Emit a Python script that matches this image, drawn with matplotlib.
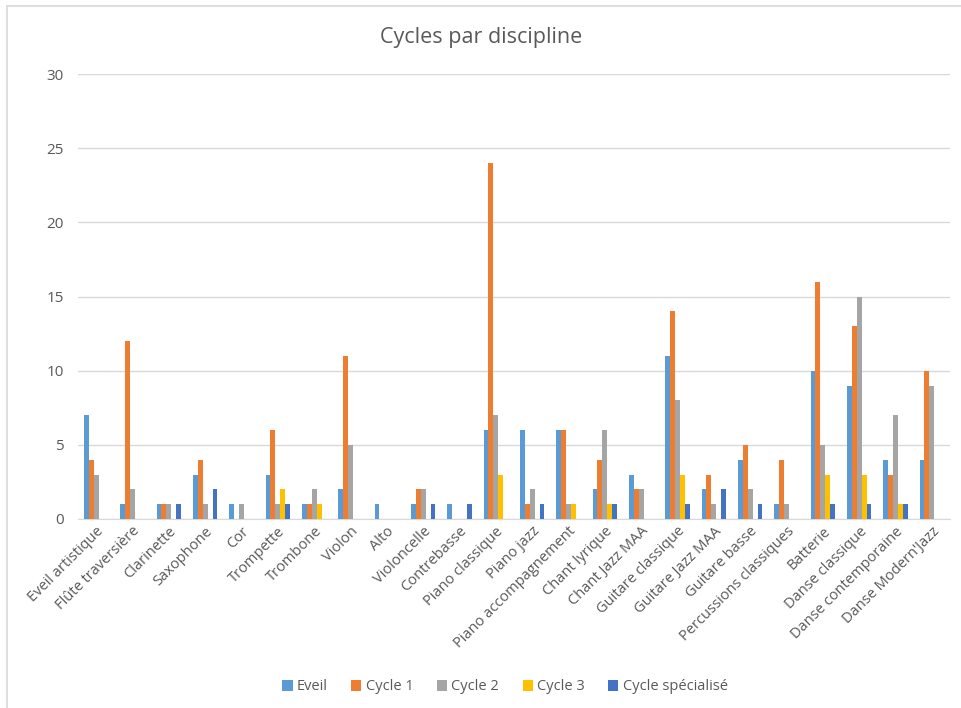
import numpy as np
import matplotlib.pyplot as plt
from matplotlib.lines import Line2D

plt.rcParams['font.family'] = ['Open Sans', 'DejaVu Sans']

# DATA
disciplines = [
    "Eveil artistique", "Flûte traversière", "Clarinette", "Saxophone", "Cor",
    "Trompette", "Trombone", "Violon", "Alto", "Violoncelle", "Contrebasse",
    "Piano classique", "Piano jazz", "Piano accompagnement", "Chant lyrique",
    "Chant Jazz MAA", "Guitare classique", "Guitare Jazz MAA", "Guitare basse",
    "Percussions classiques", "Batterie", "Danse classique",
    "Danse contemporaine", "Danse Modern'Jazz",
]
eveil = [7, 1, 1, 3, 1, 3, 1, 2, 1, 1, 1, 6, 6, 6, 2, 3, 11, 2, 4, 1, 10, 9, 4, 4]
cycle1 = [4, 12, 1, 4, 0, 6, 1, 11, 0, 2, 0, 24, 1, 6, 4, 2, 14, 3, 5, 4, 16, 13, 3, 10]
cycle2 = [3, 2, 1, 1, 1, 1, 2, 5, 0, 2, 0, 7, 2, 1, 6, 2, 8, 1, 2, 1, 5, 15, 7, 9]
cycle3 = [0, 0, 0, 0, 0, 2, 1, 0, 0, 0, 0, 3, 0, 1, 1, 0, 3, 0, 0, 0, 3, 3, 1, 0]
cycle_spe = [0, 0, 1, 2, 0, 1, 0, 0, 0, 1, 1, 0, 1, 0, 1, 0, 1, 2, 1, 0, 1, 1, 1, 0]

series = [
    ("Eveil", eveil, "#5B9BD5"),
    ("Cycle 1", cycle1, "#ED7D31"),
    ("Cycle 2", cycle2, "#A5A5A5"),
    ("Cycle 3", cycle3, "#FFC000"),
    ("Cycle spécialisé", cycle_spe, "#4472C4"),
]

fig = plt.figure(figsize=(9.62, 7.08), dpi=100)
ax = fig.add_axes([78 / 962, 1 - 519 / 708, (950 - 78) / 962, (519 - 74) / 708])

x = np.arange(len(disciplines))
bar_w = 0.135
for i, (name, vals, col) in enumerate(series):
    ax.bar(x + (i - 2) * bar_w, vals, width=bar_w, color=col, label=name, zorder=3)

ax.set_xlim(-0.5, len(disciplines) - 0.5)
ax.set_ylim(0, 30)
ax.set_yticks(range(0, 31, 5))
ax.yaxis.grid(True, color="#D9D9D9", linewidth=1, zorder=0)
for s in ["left", "right", "top"]:
    ax.spines[s].set_visible(False)
ax.spines["bottom"].set_color("#D9D9D9")
ax.tick_params(axis="both", length=0, colors="#595959", labelsize=10.5)
ax.tick_params(axis="y", pad=10, labelsize=11)
ax.set_xticks(x)
ax.set_xticklabels(disciplines, rotation=45, ha="right", rotation_mode="anchor")

fig.text(0.5, 1 - 38 / 708, "Cycles par discipline", ha="center", va="center",
         fontsize=15.5, color="#595959")

fig.legend(loc="center", bbox_to_anchor=(0.525, 1 - 687 / 708), ncol=5, frameon=False,
           fontsize=10.5, handlelength=0.7, handleheight=0.7, handletextpad=0.3,
           columnspacing=1.6, labelcolor="#595959")

# light chart border (top and left edges visible in the reference)
fig.add_artist(Line2D([7 / 962, 1], [1 - 6 / 708] * 2, color="#D9D9D9", lw=1.2))
fig.add_artist(Line2D([7 / 962] * 2, [0, 1 - 6 / 708], color="#D9D9D9", lw=1.2))

fig.savefig("out.png", dpi=100)
